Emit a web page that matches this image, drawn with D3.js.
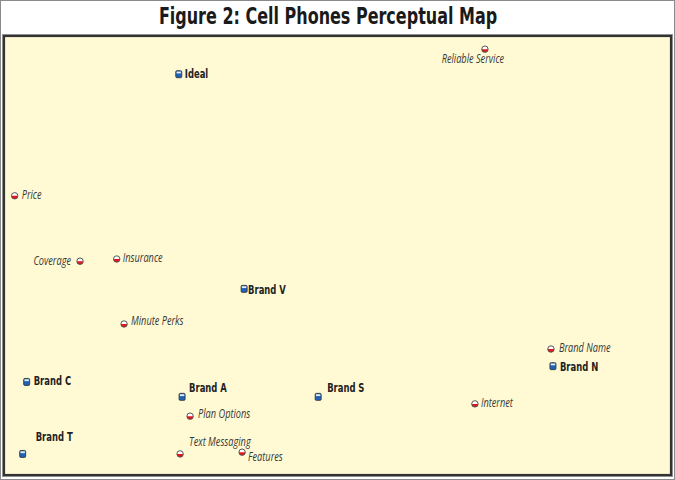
<!DOCTYPE html>
<html>
<head>
<meta charset="utf-8">
<script src="https://d3js.org/d3.v7.min.js"></script>
<style>
  html, body { margin: 0; padding: 0; background: #fff; }
  svg { display: block; }
</style>
</head>
<body>
<svg id="chart" width="675" height="480"></svg>
<script>
// Brands and product attributes placed on the two perceptual dimensions (0–100 scale)
const brandNames = ["Ideal", "Brand V", "Brand N", "Brand C", "Brand A", "Brand S", "Brand T"];
const brandX = [26.2, 36.0, 82.3, 3.4, 26.7, 47.1, 2.8];
const brandY = [91.3, 42.4, 24.8, 21.2, 17.8, 17.8, 4.8];

const attributeNames = ["Reliable Service", "Price", "Coverage", "Insurance", "Minute Perks",
  "Brand Name", "Internet", "Plan Options", "Text Messaging", "Features"];
const attributeX = [72.1, 1.6, 11.4, 16.9, 18.0, 82.0, 70.6, 27.9, 26.4, 35.7];
const attributeY = [97.0, 63.6, 48.7, 49.2, 34.4, 28.7, 16.2, 13.4, 4.8, 5.2];

const titleText = "Figure 2: Cell Phones Perceptual Map";

// Label placement relative to each marker: [dx, dy, anchor]
const labelOffset = {
  "Ideal": [6, 4, "start"],
  "Brand V": [4, 5, "start"],
  "Brand N": [7, 5, "start"],
  "Brand C": [7, 3, "start"],
  "Brand A": [7, -5, "start"],
  "Brand S": [9, -5, "start"],
  "Brand T": [13, -13, "start"],
  "Reliable Service": [-12, 14, "middle"],
  "Price": [7, 3, "start"],
  "Coverage": [-9, 4, "end"],
  "Insurance": [6, 3, "start"],
  "Minute Perks": [7, 1, "start"],
  "Brand Name": [8, 3, "start"],
  "Internet": [6, 3, "start"],
  "Plan Options": [8, 2, "start"],
  "Text Messaging": [9, -8, "start"],
  "Features": [6, 9, "start"]
};

const W = 675, H = 480;
const panel = { x0: 4, x1: 671, y0: 36, y1: 475 };
const condensed = "'DejaVu Sans Condensed', 'DejaVu Sans', sans-serif";

const svg = d3.select("#chart");

// page frame
svg.append("rect")
  .attr("x", 0.5).attr("y", 0.5)
  .attr("width", W - 1).attr("height", H - 1)
  .attr("fill", "#fff").attr("stroke", "#8a8a8a").attr("stroke-width", 1);

// title, narrowed horizontally
svg.append("text")
  .attr("transform", `translate(328,24) scale(0.79,1)`)
  .attr("text-anchor", "middle")
  .attr("font-family", condensed)
  .attr("font-weight", "bold")
  .attr("font-size", 22.5)
  .attr("fill", "#1a1a1a")
  .text(titleText);

// map panel
svg.append("rect")
  .attr("x", panel.x0 - 1.5).attr("y", panel.y0 - 1.5)
  .attr("width", panel.x1 - panel.x0 + 3).attr("height", panel.y1 - panel.y0 + 3)
  .attr("fill", "none").attr("stroke", "#9a9a9a").attr("stroke-width", 1);
svg.append("rect")
  .attr("x", panel.x0).attr("y", panel.y0)
  .attr("width", panel.x1 - panel.x0).attr("height", panel.y1 - panel.y0)
  .attr("fill", "#fffad4").attr("stroke", "#333").attr("stroke-width", 2.2);

const x = d3.scaleLinear().domain([0, 100]).range([panel.x0, panel.x1]);
const y = d3.scaleLinear().domain([0, 100]).range([panel.y1, panel.y0]);

const brands = brandNames.map((n, i) => ({ name: n, x: brandX[i], y: brandY[i] }));
const attrs = attributeNames.map((n, i) => ({ name: n, x: attributeX[i], y: attributeY[i] }));

// attribute markers: half-white, half-red dots
const aG = svg.append("g").selectAll("g").data(attrs).join("g")
  .attr("transform", d => `translate(${x(d.x)},${y(d.y)})`);
aG.append("circle").attr("r", 3.2).attr("fill", "#fff");
aG.append("path")
  .attr("d", d3.arc()({ innerRadius: 0, outerRadius: 3.2, startAngle: Math.PI / 2, endAngle: Math.PI * 1.5 }))
  .attr("fill", "#e8141c");
aG.append("circle").attr("r", 3.2).attr("fill", "none").attr("stroke", "#555").attr("stroke-width", 1);
aG.append("text")
  .attr("transform", d => `translate(${labelOffset[d.name][0]},${labelOffset[d.name][1]}) scale(0.78,1)`)
  .attr("text-anchor", d => labelOffset[d.name][2])
  .attr("font-family", "'Open Sans', sans-serif")
  .attr("font-style", "italic")
  .attr("font-size", 11.8)
  .attr("fill", "#383838")
  .text(d => d.name);

// brand markers: small blue handsets with a light top band
const bG = svg.append("g").selectAll("g").data(brands).join("g")
  .attr("transform", d => `translate(${x(d.x)},${y(d.y)})`);
bG.append("rect")
  .attr("x", -3).attr("y", -3.5).attr("width", 6).attr("height", 7).attr("rx", 1.2)
  .attr("fill", "#1f63b8").attr("stroke", "#3a3a3a").attr("stroke-width", 0.9);
bG.append("rect")
  .attr("x", -2.2).attr("y", -2.6).attr("width", 4.4).attr("height", 1.8)
  .attr("fill", "#e8eef6");
bG.append("text")
  .attr("transform", d => `translate(${labelOffset[d.name][0]},${labelOffset[d.name][1]}) scale(0.75,1)`)
  .attr("text-anchor", d => labelOffset[d.name][2])
  .attr("font-family", condensed)
  .attr("font-weight", "bold")
  .attr("font-size", 12.5)
  .attr("fill", "#222")
  .text(d => d.name);
</script>
</body>
</html>
